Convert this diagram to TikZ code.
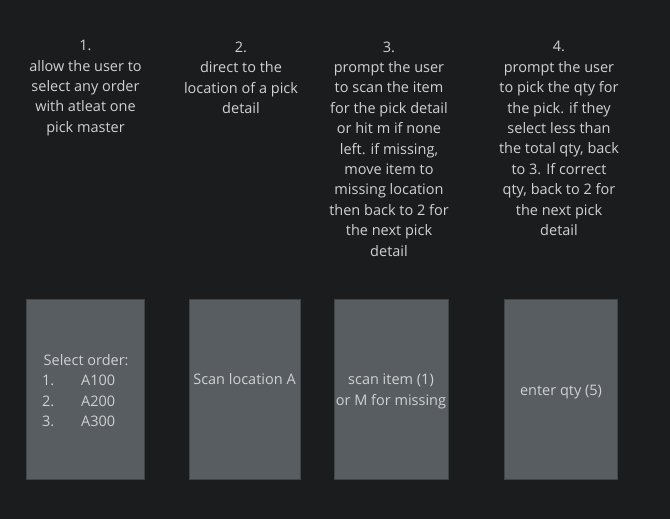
\documentclass[tikz,border=0pt]{standalone}
\usepackage{fontspec}
\setmainfont{Open Sans}
\definecolor{bg}{HTML}{1B1C1E}
\definecolor{boxfill}{HTML}{575D60}
\definecolor{boxline}{HTML}{404548}
\definecolor{txt}{HTML}{CFD1D2}
\tikzset{
  desc/.style={text=txt, align=center, inner sep=0pt, font=\fontsize{14.5bp}{20.4bp}\selectfont},
  screen/.style={draw=boxline, line width=0.8bp, fill=boxfill, inner sep=0pt},
  scrtxt/.style={text=txt, inner sep=0pt, font=\fontsize{14.5bp}{20.4bp}\selectfont}
}
\begin{document}
\begin{tikzpicture}[x=1bp,y=-1bp]
\fill[bg] (0,0) rectangle (670,519);
\useasboundingbox (0,0) rectangle (670,519);

\node[desc] (d1) at (85.5,88) {1.\\allow the user to\\select any order\\with atleat one\\pick master};
\node[desc] (d2) at (241,78) {2.\\direct to the\\location of a pick\\detail};
\node[desc] (d3) at (389,149) {3.\\prompt the user\\to scan the item\\for the pick detail\\or hit m if none\\left. if missing,\\move item to\\missing location\\then back to 2 for\\the next pick\\detail};
\node[desc] (d4) at (559,138.5) {4.\\prompt the user\\to pick the qty for\\the pick. if they\\select less than\\the total qty, back\\to 3. If correct\\qty, back to 2 for\\the next pick\\detail};

\draw[screen] (26.5,299) rectangle (144,479);
\draw[screen] (189,299) rectangle (300,479);
\draw[screen] (334,299) rectangle (448,479);
\draw[screen] (504,299) rectangle (617.5,479);

\node[scrtxt, align=left, anchor=west] (s1) at (42,390.5) {\hspace*{1.5bp}Select order:\\\makebox[39bp][l]{1.}A100\\\makebox[39bp][l]{2.}A200\\\makebox[39bp][l]{3.}A300};
\node[scrtxt] (s2) at (244.5,379.5) {Scan location A};
\node[scrtxt, align=center] (s3) at (391,391.5) {scan item (1)\\or M for missing};
\node[scrtxt] (s4) at (561,392.5) {enter qty (5)};
\end{tikzpicture}
\end{document}
